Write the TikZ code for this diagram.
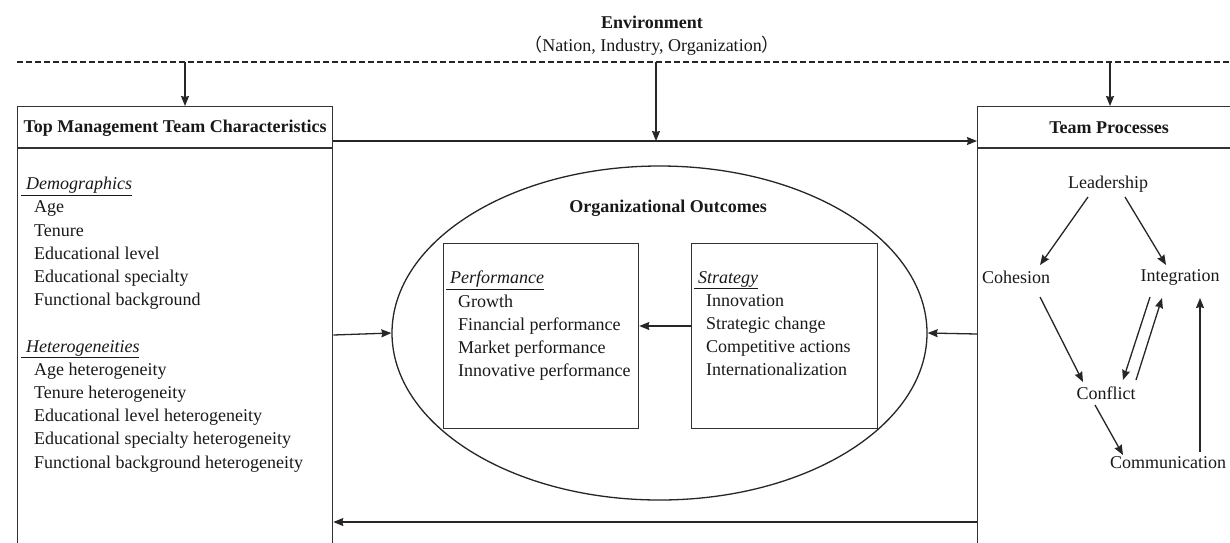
\documentclass[tikz,border=0pt]{standalone}
\usepackage{fontspec}
\setmainfont{Liberation Serif}
\newfontfamily\cjk{Noto Sans CJK SC}
\usetikzlibrary{arrows.meta,calc,shapes.geometric}
\begin{document}
\begin{tikzpicture}[x=1pt,y=-1pt,
  box/.style={draw=black!80, line width=1.3pt, inner sep=0pt},
  arr/.style={draw=black!85, line width=1.3pt, -{Stealth[length=10pt,width=8pt,inset=1pt]}},
  txt/.style={font=\fontsize{18}{23.2}\selectfont, text=black!90, inner sep=0pt, align=left, anchor=north west},
  hdr/.style={font=\fontsize{18}{20}\selectfont\bfseries, text=black!90, inner sep=0pt},
  lab/.style={font=\fontsize{18}{20}\selectfont, text=black!90, inner sep=0pt}]
\clip (0,0) rectangle (1230,542);
\fill[white] (0,0) rectangle (1230,542);

% environment
\node[hdr] (env) at (652,22) {Environment};
\node[lab] (envsub) at (652,46) {{\cjk （}Nation, Industry, Organization{\cjk ）}};
\coordinate (dl) at (17,62);
\coordinate (dr) at (1240,62);
\draw[black!85, line width=1.2pt, dash pattern=on 6pt off 3pt] (dl) -- (dr);

% main boxes
\node[box, anchor=north west, minimum width=315, minimum height=470] (tmt) at (17,106) {};
\draw[box] ($(tmt.north west)+(0,42)$) -- ($(tmt.north east)+(0,42)$);
\node[hdr] (tmth) at ($(tmt.north)+(0,22)$) {Top Management Team Characteristics};

\node[box, anchor=north west, minimum width=300, minimum height=470] (tp) at (977,106) {};
\draw[box] ($(tp.north west)+(0,42)$) -- ($(tp.north east)+(0,42)$);
\node[hdr] (tph) at (1109,128) {Team Processes};

% left content
\node[txt] (tmtlist) at (21,177) {\underline{\hspace{5pt}\textit{Demographics}}\\
\hspace{13pt}Age\\
\hspace{13pt}Tenure\\
\hspace{13pt}Educational level\\
\hspace{13pt}Educational specialty\\
\hspace{13pt}Functional background\\[23.2pt]
\underline{\hspace{5pt}\textit{Heterogeneities}}\\
\hspace{13pt}Age heterogeneity\\
\hspace{13pt}Tenure heterogeneity\\
\hspace{13pt}Educational level heterogeneity\\
\hspace{13pt}Educational specialty heterogeneity\\
\hspace{13pt}Functional background heterogeneity};

% outcomes
\node[draw=black!85, line width=1.3pt, ellipse, inner sep=0pt, minimum width=535, minimum height=334] (oo) at (659.5,333) {};
\node[hdr] (ooh) at (668,208) {Organizational Outcomes};
\node[box, anchor=north west, minimum width=195, minimum height=185] (perf) at (443,243) {};
\node[box, anchor=north west, minimum width=186, minimum height=185] (strat) at (691,243) {};
\node[txt] (perflist) at (446,271) {\underline{\hspace{4pt}\textit{Performance}}\\
\hspace{12pt}Growth\\
\hspace{12pt}Financial performance\\
\hspace{12pt}Market performance\\
\hspace{12pt}Innovative performance};
\node[txt] (stratlist) at (694,271) {\underline{\hspace{4pt}\textit{Strategy}}\\
\hspace{12pt}Innovation\\
\hspace{12pt}Strategic change\\
\hspace{12pt}Competitive actions\\
\hspace{12pt}Internationalization};

% team processes
\node[lab] (lead) at (1108,184) {Leadership};
\node[lab] (coh) at (1016,277) {Cohesion};
\node[lab] (integ) at (1180,277) {Integration};
\node[lab] (conf) at (1106,393) {Conflict};
\node[lab] (comm) at (1168,463) {Communication};

\draw[arr] ($(lead)+(-20,13)$) -- ($(coh)+(24,-12)$);
\draw[arr] ($(lead)+(17,13)$) -- ($(integ)+(-14,-12)$);
\draw[arr] ($(coh)+(24,20)$) -- ($(conf)+(-23,-11)$);
\draw[arr] ($(integ)+(-30,20)$) -- ($(conf)+(17,-13)$);
\draw[arr] ($(conf)+(30,-13)$) -- ($(integ)+(-18,21)$);
\draw[arr] ($(conf)+(-11,12)$) -- ($(comm)+(-45,-8)$);
\draw[arr] ($(comm)+(32,-11)$) -- ($(integ)+(20,21)$);

% main connectors
\coordinate (e1) at (185,62);
\coordinate (e2) at (656,62);
\coordinate (e3) at (1110,62);
\coordinate (t1) at ($(tmt.north east)+(0,35)$);
\coordinate (t2) at ($(tp.north west)+(0,35)$);
\draw[arr] (e1) -- (e1 |- tmt.north);
\draw[arr] (e3) -- (e3 |- tp.north);
\draw[arr] (t1) -- (t2);
\draw[arr] (e2) -- (e2 |- t1);
\draw[arr] ($(tmt.north east)+(0,229)$) -- (oo.west);
\draw[arr] ($(tp.north west)+(0,228)$) -- (oo.east);
\draw[arr] ($(strat.north west)+(0,83)$) -- ($(perf.north east)+(0,83)$);
\draw[arr] ($(tp.north west)+(0,416)$) -- ($(tmt.north east)+(0,416)$);
\end{tikzpicture}
\end{document}
